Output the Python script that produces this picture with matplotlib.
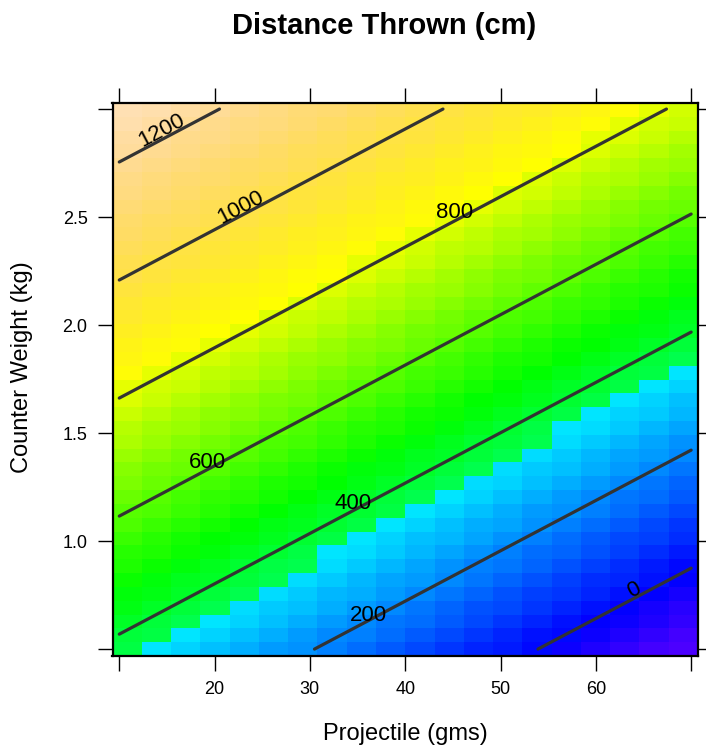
import colorsys

import numpy as np
import matplotlib
matplotlib.use("Agg")
import matplotlib.pyplot as plt
from matplotlib.colors import ListedColormap, Normalize

plt.rcParams['font.family'] = ['Liberation Sans', 'DejaVu Sans']

# fitted surface: distance = b0 + b_weight * weight + b_proj * projectile
B0 = 277.0          # [cm]
B_WEIGHT = 366.0    # [cm / kg]
B_PROJ = -8.53      # [cm / gm]

PROJ_RANGE = [10, 70]      # gms
WEIGHT_RANGE = [0.5, 3.0]  # kg
N_COLS = 20
N_ROWS = 40

LEVELS = [0, 200, 400, 600, 800, 1000, 1200]
# label placement (projectile, weight, follow line?)
LABEL_LEVELS = [1200, 1000, 800, 600, 400, 200, 0]
LABEL_PROJ = [14.4, 22.7, 45.2, 19.2, 34.5, 36.1, 64.0]
LABEL_WEIGHT = [2.90, 2.546, 2.523, 1.366, 1.176, 0.657, 0.773]
LABEL_ROTATE = [True, True, False, False, False, False, True]

X_TICKS = [10, 20, 30, 40, 50, 60, 70]
X_TICKLABELS = ['', '20', '30', '40', '50', '60', '']
Y_TICKS = [0.5, 1.0, 1.5, 2.0, 2.5, 3.0]
Y_TICKLABELS = ['', '1.0', '1.5', '2.0', '2.5', '']


def distance(p, w):
    return B0 + B_WEIGHT * w + B_PROJ * p


def topo_colors(n):
    # same recipe as R's topo.colors()
    j = n // 3
    k = n // 3
    i = n - j - k
    cols = []
    for h in np.linspace(43 / 60, 31 / 60, i):
        cols.append(colorsys.hsv_to_rgb(h, 1, 1))
    for h in np.linspace(23 / 60, 11 / 60, j):
        cols.append(colorsys.hsv_to_rgb(h, 1, 1))
    for h, s in zip(np.linspace(10 / 60, 6 / 60, k), np.linspace(1, 0.3, k)):
        cols.append(colorsys.hsv_to_rgb(h, s, 1))
    return cols


xlim = (9.29, 70.72)
ylim = (0.468, 3.028)

fig = plt.figure(figsize=(7.06, 7.51), dpi=100)
ax = fig.add_axes([112.5 / 706, 1 - 656 / 751, 585.5 / 706, 553 / 751])

x_edges = np.linspace(xlim[0], xlim[1], N_COLS + 1)
y_edges = np.linspace(ylim[0], ylim[1], N_ROWS + 1)
xc = (x_edges[:-1] + x_edges[1:]) / 2
yc = (y_edges[:-1] + y_edges[1:]) / 2
XC, YC = np.meshgrid(xc, yc)
Z = distance(XC, YC)

cmap = ListedColormap(topo_colors(100))
ax.pcolormesh(x_edges, y_edges, Z, cmap=cmap,
              norm=Normalize(Z.min(), Z.max()), shading='flat',
              edgecolors='none', antialiased=False)

pf = np.linspace(PROJ_RANGE[0], PROJ_RANGE[1], 200)
wf = np.linspace(WEIGHT_RANGE[0], WEIGHT_RANGE[1], 200)
PF, WF = np.meshgrid(pf, wf)
cs = ax.contour(PF, WF, distance(PF, WF), levels=LEVELS,
                colors='#333333', linewidths=2.3)
cs.set_capstyle('round')

ax.set_xlim(*xlim)
ax.set_ylim(*ylim)

# angle of the contour lines on screen
fig.canvas.draw()
p0 = ax.transData.transform((30, 1.0))
p1 = ax.transData.transform((40, 1.0 - 10 * B_PROJ / B_WEIGHT))
angle = np.degrees(np.arctan2(p1[1] - p0[1], p1[0] - p0[0]))

for lev, p, w, rot in zip(LABEL_LEVELS, LABEL_PROJ, LABEL_WEIGHT,
                          LABEL_ROTATE):
    ax.text(p, w, str(lev), fontsize=16, ha='center', va='center',
            rotation=angle if rot else 0, rotation_mode='anchor')

ax.set_xticks(X_TICKS)
ax.set_xticklabels(X_TICKLABELS)
ax.set_yticks(Y_TICKS)
ax.set_yticklabels(Y_TICKLABELS)
ax.tick_params(direction='out', length=11, width=1.0, labelsize=13,
               top=True, right=True, pad=7)
for s in ax.spines.values():
    s.set_linewidth(1.6)

ax.set_xlabel('Projectile (gms)', fontsize=17)
ax.set_ylabel('Counter Weight (kg)', fontsize=17)
ax.xaxis.set_label_coords(0.5, -0.122)
ax.yaxis.set_label_coords(-0.136, 0.523)
fig.text(384 / 706, 1 - 26 / 751, 'Distance Thrown (cm)', fontsize=21,
         fontweight='bold', ha='center', va='center')

fig.savefig('out.png', dpi=100)
